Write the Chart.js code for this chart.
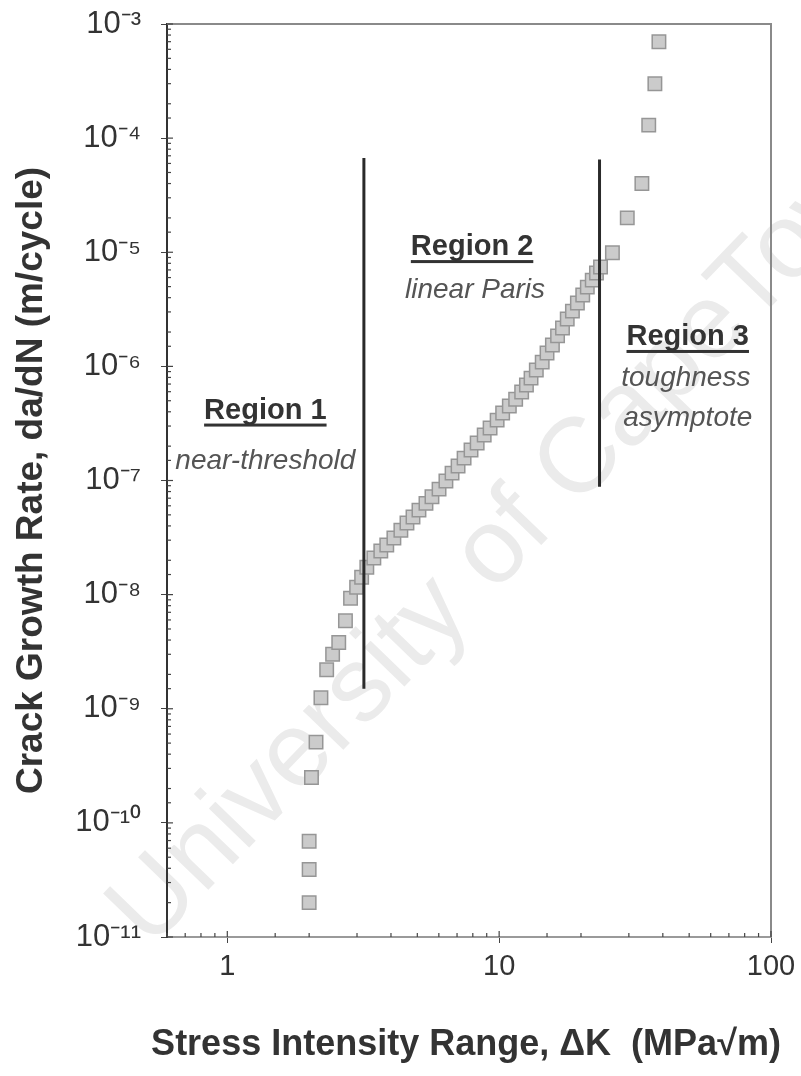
<!DOCTYPE html>
<html>
<head>
<meta charset="utf-8">
<script src="https://cdn.jsdelivr.net/npm/chart.js@4.4.1/dist/chart.umd.min.js"></script>
<style>
  html, body { margin: 0; padding: 0; background: #fff; }
</style>
</head>
<body>
<canvas id="c" width="801" height="1076"></canvas>
<script>
// Stress intensity range ΔK (MPa√m)
const deltaK = [
  2.0, 2.0, 2.0, 2.04, 2.12, 2.21, 2.32, 2.44, 2.57, 2.72, 2.84,
  2.99, 3.12, 3.26, 3.46, 3.67, 3.86, 4.10, 4.35, 4.58, 4.82, 5.07, 5.38, 5.66,
  6.01, 6.37, 6.71, 7.06, 7.43, 7.88, 8.30, 8.81, 9.26, 9.83, 10.3, 10.9, 11.5,
  12.1, 12.6, 13.1, 13.7, 14.4, 15.0, 15.7, 16.4, 17.1, 17.8, 18.6, 19.4, 20.3,
  21.1, 22.0, 22.8, 23.6,
  26.1, 29.6, 33.5, 35.5, 37.4, 38.7
];
// crack growth rate da/dN (m/cycle)
const growthRate = [
  2.0e-11, 3.9e-11, 6.9e-11, 2.5e-10, 5.1e-10, 1.25e-9, 2.2e-9, 3.0e-9, 3.8e-9, 5.9e-9, 9.3e-9,
  1.16e-8, 1.42e-8, 1.74e-8, 2.09e-8, 2.41e-8, 2.72e-8, 3.13e-8, 3.67e-8, 4.24e-8, 4.78e-8, 5.5e-8, 6.3e-8, 7.2e-8,
  8.4e-8, 9.9e-8, 1.16e-7, 1.34e-7, 1.57e-7, 1.85e-7, 2.13e-7, 2.5e-7, 2.88e-7, 3.38e-7, 3.9e-7, 4.49e-7, 5.16e-7,
  5.96e-7, 6.86e-7, 7.89e-7, 9.3e-7, 1.09e-6, 1.31e-6, 1.54e-6, 1.85e-6, 2.17e-6, 2.6e-6, 3.05e-6, 3.59e-6, 4.22e-6,
  4.95e-6, 5.7e-6, 6.57e-6, 7.42e-6,
  9.9e-6, 2.0e-5, 4.0e-5, 1.3e-4, 3.0e-4, 7.0e-4
];

// region boundaries (vertical lines)
const boundaryK = [3.18, 23.4];
const boundaryLow = [1.5e-9, 8.8e-8];
const boundaryHigh = [6.7e-5, 6.5e-5];

// region labels
const regionTitles = ['Region 1', 'Region 2', 'Region 3'];
const regionTitleK = [1.38, 7.95, 49.4];
const regionTitleRate = [4.1e-7, 1.11e-5, 1.81e-6];
const regionNotes = ['near-threshold', 'linear Paris', 'toughness', 'asymptote'];
const regionNoteK = [1.38, 8.15, 48.6, 49.4];
const regionNoteRate = [1.48e-7, 4.67e-6, 7.9e-7, 3.52e-7];

// axis ticks
const xTickValues = [1, 10, 100];
const xTickLabels = ['1', '10', '100'];
const yTickValues = [1e-11, 1e-10, 1e-9, 1e-8, 1e-7, 1e-6, 1e-5, 1e-4, 1e-3];
const yTickLabels = ['10⁻¹¹', '10⁻¹⁰', '10⁻⁹', '10⁻⁸', '10⁻⁷', '10⁻⁶', '10⁻⁵', '10⁻⁴', '10⁻³'];
const xTitle = 'Stress Intensity Range, ΔK  (MPa√m)';
const yTitle = 'Crack Growth Rate, da/dN (m/cycle)';

const FONT = '"Liberation Sans", Arial, sans-serif';

function labelFor(v, values, labels) {
  for (let i = 0; i < values.length; i++) {
    if (Math.abs(Math.log10(v) - Math.log10(values[i])) < 1e-6) return labels[i];
  }
  return '';
}
function isDecade(v) {
  const l = Math.log10(v);
  return Math.abs(l - Math.round(l)) < 1e-6;
}

// light watermark behind everything
const watermark = {
  id: 'watermark',
  beforeDraw(chart) {
    const ctx = chart.ctx;
    ctx.save();
    ctx.translate(150, 950);
    ctx.rotate(-46 * Math.PI / 180);
    ctx.font = '106px ' + FONT;
    ctx.fillStyle = '#ebebeb';
    ctx.textBaseline = 'alphabetic';
    ctx.fillText('University of CapeTown', 0, 0);
    ctx.restore();
  }
};

// frame, inner tick marks, x title and region labels
const extras = {
  id: 'extras',
  afterDraw(chart) {
    const ctx = chart.ctx;
    const a = chart.chartArea;
    const xs = chart.scales.x, ys = chart.scales.y;
    ctx.save();
    ctx.strokeStyle = '#8a8a8a';
    ctx.lineWidth = 2;
    ctx.beginPath();
    ctx.moveTo(a.left, a.top);
    ctx.lineTo(a.right, a.top);
    ctx.lineTo(a.right, a.bottom);
    ctx.stroke();

    // inner ticks
    ctx.strokeStyle = '#444';
    ctx.lineWidth = 1.2;
    ys.ticks.forEach(t => {
      const y = ys.getPixelForValue(t.value);
      const len = isDecade(t.value) ? 6 : 4;
      ctx.beginPath();
      ctx.moveTo(a.left, y);
      ctx.lineTo(a.left + len, y);
      ctx.stroke();
    });
    xs.ticks.forEach(t => {
      const x = xs.getPixelForValue(t.value);
      const len = isDecade(t.value) ? 6 : 4;
      ctx.beginPath();
      ctx.moveTo(x, a.bottom);
      ctx.lineTo(x, a.bottom - len);
      ctx.stroke();
    });

    // x axis title (wider than the plot, so drawn here)
    ctx.textAlign = 'center';
    ctx.textBaseline = 'middle';
    ctx.fillStyle = '#333';
    ctx.font = 'bold 36px ' + FONT;
    ctx.fillText(xTitle, (a.left + a.right) / 2 - 3, xs.bottom - 31);

    // region titles, bold + underlined
    ctx.font = 'bold 29px ' + FONT;
    regionTitles.forEach((txt, i) => {
      const x = xs.getPixelForValue(regionTitleK[i]);
      const y = ys.getPixelForValue(regionTitleRate[i]);
      ctx.fillText(txt, x, y);
      const w = ctx.measureText(txt).width;
      ctx.fillRect(x - w / 2, y + 13, w, 3);
    });
    ctx.font = 'italic 28px ' + FONT;
    ctx.fillStyle = '#555';
    regionNotes.forEach((txt, i) => {
      ctx.fillText(txt, xs.getPixelForValue(regionNoteK[i]), ys.getPixelForValue(regionNoteRate[i]));
    });
    ctx.restore();
  }
};

const lineSets = boundaryK.map((k, i) => ({
  data: [{ x: k, y: boundaryLow[i] }, { x: k, y: boundaryHigh[i] }],
  showLine: true,
  pointRadius: 0,
  borderColor: '#2a2a2a',
  borderWidth: 3
}));

new Chart(document.getElementById('c'), {
  type: 'scatter',
  data: {
    datasets: [
      ...lineSets,
      {
        data: deltaK.map((k, i) => ({ x: k, y: growthRate[i] })),
        pointStyle: 'rect',
        pointRadius: 9.5,
        backgroundColor: '#cbcbcb',
        borderColor: '#969696',
        borderWidth: 1.5
      }
    ]
  },
  options: {
    responsive: false,
    animation: false,
    layout: { padding: { top: 24, right: 30, left: 0, bottom: 0 } },
    plugins: { legend: { display: false }, tooltip: { enabled: false } },
    scales: {
      x: {
        type: 'logarithmic',
        min: 0.6,
        max: 100,
        afterFit(scale) { scale.height = 139; scale.paddingRight = 0; scale.paddingLeft = 0; },
        border: { color: '#9a9a9a', width: 2 },
        grid: {
          drawOnChartArea: false,
          tickLength: 6,
          color: c => (c.tick && isDecade(c.tick.value)) ? '#444' : 'rgba(0,0,0,0)'
        },
        ticks: {
          autoSkip: false,
          maxRotation: 0,
          padding: 7,
          color: '#333',
          font: { family: FONT, size: 29 },
          callback: v => labelFor(v, xTickValues, xTickLabels)
        }
      },
      y: {
        type: 'logarithmic',
        min: 1e-11,
        max: 1e-3,
        afterFit(scale) { scale.width = 167; scale.paddingTop = 0; scale.paddingBottom = 0; },
        border: { color: '#333', width: 2 },
        grid: {
          drawOnChartArea: false,
          tickLength: 6,
          color: c => (c.tick && isDecade(c.tick.value)) ? '#444' : 'rgba(0,0,0,0)'
        },
        ticks: {
          autoSkip: false,
          padding: 20,
          color: '#333',
          font: { family: FONT, size: 31 },
          callback: v => labelFor(v, yTickValues, yTickLabels)
        },
        title: {
          display: true,
          text: yTitle,
          color: '#333',
          font: { family: FONT, size: 37, weight: 'bold' },
          padding: { top: 10, bottom: 0 }
        }
      }
    }
  },
  plugins: [watermark, extras]
});
</script>
</body>
</html>
